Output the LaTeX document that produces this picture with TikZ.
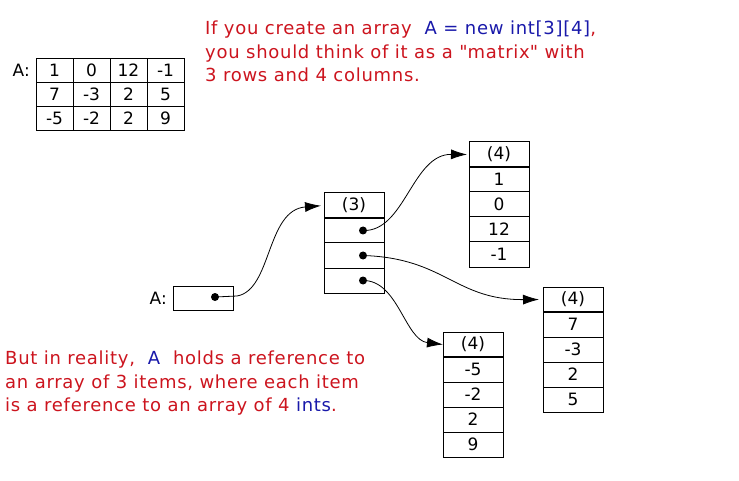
\documentclass[tikz,border=0pt]{standalone}
\usepackage{fontspec}
\setmainfont{DejaVu Sans}
\usepackage{tikz}
\usetikzlibrary{arrows.meta,positioning}
\definecolor{txtred}{RGB}{204,20,30}
\definecolor{txtblue}{RGB}{25,25,170}
\newfontfamily\notefont[LetterSpace=4]{DejaVu Sans}
\tikzset{
  c/.style={rectangle,draw,line width=1pt,minimum width=60pt,minimum height=25pt,inner sep=0pt,outer sep=0pt,font=\fontsize{17}{17}\selectfont},
  mc/.style={c,minimum width=37pt,minimum height=24pt},
  dt/.style={circle,fill,inner sep=0pt,minimum size=8pt},
  arr/.style={-{Latex[length=16pt,width=10pt]},line width=0.8pt},
  txt/.style={anchor=north west,align=left,inner sep=0pt,text=txtred,font=\notefont\fontsize{18}{23.5}\selectfont},
  lbl/.style={inner sep=0pt,font=\fontsize{17}{17}\selectfont},
}

\begin{document}
\begin{tikzpicture}[x=1pt,y=-1pt,node distance=0pt]
  \useasboundingbox (0,0) rectangle (739,481);
  % the "matrix" view
  \foreach \row [count=\r] in {{1,0,12,-1},{7,-3,2,5},{-5,-2,2,9}}
    \foreach \v [count=\k] in \row
      \node[mc] (m\r\k) at (17.5+37*\k,46.5+24*\r) {\v};
  \node[lbl,left=6pt of m11] (ma) {A:};
  % notes
  \node[txt] (n1) at (205,21) {If you create an array \ \textcolor{txtblue}{A = new int[3][4]},\\you should think of it as a \textquotedbl matrix\textquotedbl\ with\\3 rows and 4 columns.};
  \node[txt] (n2) at (5,351) {But in reality, \ \textcolor{txtblue}{A} \ holds a reference to\\an array of 3 items, where each item\\is a reference to an array of 4 \textcolor{txtblue}{ints}.};
  % the variable A
  \node[c,minimum height=24pt] (av) at (203,298) {};
  \node[lbl,left=6pt of av] (al) {A:};
  \node[dt] (ad) at (215,297) {};
  % array of 3 references
  \node[c] (p0) at (354,205.5) {(3)};
  \foreach \i/\j in {1/0,2/1,3/2}
    \node[c,below=of p\j] (p\i) {};
  \draw[line width=2.5pt] (p0.south west) -- (p0.south east);
  \foreach \i in {1,2,3}
    \node[dt] (d\i) at ([xshift=9pt]p\i.center) {};
  % three arrays of 4 ints
  \node[c] (q0) at (499,154.5) {(4)};
  \foreach \v [count=\i,evaluate=\i as \j using int(\i-1)] in {1,0,12,-1}
    \node[c,below=of q\j] (q\i) {\v};
  \node[c] (r0) at (573,299.5) {(4)};
  \foreach \v [count=\i,evaluate=\i as \j using int(\i-1)] in {7,-3,2,5}
    \node[c,below=of r\j] (r\i) {\v};
  \node[c] (s0) at (473,344.5) {(4)};
  \foreach \v [count=\i,evaluate=\i as \j using int(\i-1)] in {-5,-2,2,9}
    \node[c,below=of s\j] (s\i) {\v};
  \foreach \a in {q,r,s}
    \draw[line width=2.5pt] (\a0.south west) -- (\a0.south east);
  % references
  \draw[arr,shorten >=3pt] (ad.center) -- (237,296) .. controls (272,290) and (266,210) .. (p0.west);
  \draw[arr,shorten >=2pt] (d1.center) .. controls (405,232) and (412,154) .. (q0.west);
  \draw[arr,shorten >=4pt] (d2.center) .. controls (445,258) and (455,300) .. (r0.west);
  \draw[arr] (d3.center) .. controls (398,280) and (405,340) .. (s0.west);
\end{tikzpicture}
\end{document}
